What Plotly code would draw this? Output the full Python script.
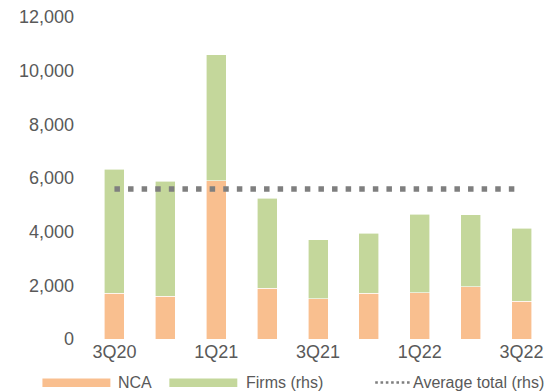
import plotly.graph_objects as go

quarters = ["3Q20", "4Q20", "1Q21", "2Q21", "3Q21", "4Q21", "1Q22", "2Q22", "3Q22"]
nca = [1700, 1600, 5900, 1900, 1500, 1700, 1720, 1950, 1400]
firms = [4630, 4280, 4700, 3350, 2200, 2250, 2930, 2680, 2730]
avg_total = [5590] * len(quarters)
tick_labels = ["3Q20", "1Q21", "3Q21", "1Q22", "3Q22"]
legend_names = ["NCA", "Firms (rhs)", "Average total (rhs)"]

NCA_C = "#F9BF8F"
FIRMS_C = "#C4D79B"
DOT_C = "#7F7F7F"
TXT = "#595959"
FONT = "Liberation Sans, Arial, sans-serif"

W, H = 550, 392
ML, MR, MT, MB = 88.6, 3.1, 16.5, 53
PW, PH = W - ML - MR, H - MT - MB


def px_x(px):
    return (px - ML) / PW


def px_y(py):
    return (H - MB - py) / PH


fig = go.Figure()
fig.add_bar(x=quarters, y=nca, name=legend_names[0],
            marker=dict(color=NCA_C, line=dict(color="#FFFFFF", width=0.6)), showlegend=False)
fig.add_bar(x=quarters, y=firms, name=legend_names[1],
            marker=dict(color=FIRMS_C, line=dict(color="#FFFFFF", width=0.6)), showlegend=False)
fig.add_scatter(x=quarters, y=avg_total, mode="lines", name=legend_names[2],
                line=dict(color=DOT_C, width=5.5, dash="5.5px,8.1px"), showlegend=False)

# manual legend (wide swatches as in reference)
shapes = [
    dict(type="rect", xref="paper", yref="paper", x0=px_x(42), x1=px_x(110), y0=px_y(387), y1=px_y(378.5),
         fillcolor=NCA_C, line=dict(width=0)),
    dict(type="rect", xref="paper", yref="paper", x0=px_x(169), x1=px_x(237), y0=px_y(387), y1=px_y(378.5),
         fillcolor=FIRMS_C, line=dict(width=0)),
    dict(type="line", xref="paper", yref="paper", x0=px_x(375), x1=px_x(410), y0=px_y(382.5), y1=px_y(382.5),
         line=dict(color=DOT_C, width=2.6, dash="2.6px,2.7px")),
]
annotations = [
    dict(text=legend_names[0], x=px_x(116), y=px_y(382.5)),
    dict(text=legend_names[1], x=px_x(244), y=px_y(382.5)),
    dict(text=legend_names[2], x=px_x(410.5), y=px_y(382.5)),
]
for a in annotations:
    a.update(xref="paper", yref="paper", xanchor="left", yanchor="middle", showarrow=False,
             font=dict(family=FONT, size=16, color=TXT))

fig.update_layout(
    width=W, height=H,
    margin=dict(l=ML, r=MR, t=MT, b=MB, autoexpand=False),
    barmode="stack", bargap=0.607,
    plot_bgcolor="white", paper_bgcolor="white",
    font=dict(family=FONT, size=18, color=TXT),
    showlegend=False,
    shapes=shapes, annotations=annotations,
)
fig.update_yaxes(range=[0, 12000], dtick=2000, tickformat=",", showgrid=False, zeroline=False,
                 showline=False, ticks="", ticklabelstandoff=14, automargin=False,
                 tickfont=dict(size=18, color=TXT))
fig.update_xaxes(tickmode="array", tickvals=tick_labels, ticktext=tick_labels, showgrid=False,
                 showline=False, ticks="", automargin=False, tickfont=dict(size=18, color=TXT))

fig.write_html("out.html", config={"displayModeBar": False},
               post_script="document.body.style.margin='0';document.body.style.overflow='hidden';")
